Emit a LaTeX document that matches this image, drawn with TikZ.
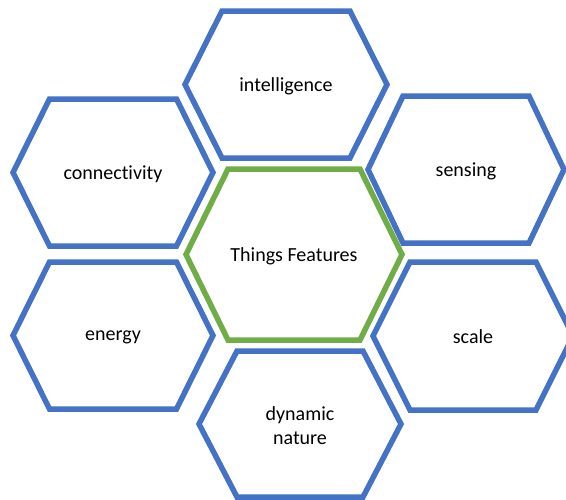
\documentclass[tikz,border=0pt]{standalone}
\usepackage{fontspec}
\setmainfont[Ligatures=CommonOff]{Carlito}
\definecolor{hexblue}{HTML}{4472C4}
\definecolor{hexgreen}{HTML}{70AD47}
\newcommand\myhex[6]{%
  \draw[#6,shift={(#1,#2)}] (-#3,0) -- (-#4,-#5) -- (#4,-#5) -- (#3,0) -- (#4,#5) -- (-#4,#5) -- cycle;}
\begin{document}
\begin{tikzpicture}[x=1pt,y=-1pt,
  hexline/.style={line width=5.5pt,line join=miter,draw=hexblue},
  hexcore/.style={line width=5.5pt,line join=miter,draw=hexgreen},
  lbl/.style={font=\fontsize{20}{24}\selectfont,align=center,text=black}]
\useasboundingbox (0,0) rectangle (566,499);
\clip (0,0) rectangle (566,499);
\myhex{286}{84.5}{101}{64}{73.5}{hexline}
\myhex{113}{172.5}{100}{63.5}{73.5}{hexline}
\myhex{466}{169.5}{98}{63}{73.5}{hexline}
\myhex{294}{254.5}{108}{66}{85.5}{hexcore}
\myhex{113}{335.5}{100}{63.5}{73.5}{hexline}
\myhex{473}{336}{100}{63}{74}{hexline}
\myhex{300}{424}{101}{63}{73}{hexline}
\node[lbl] (intel) at (286,86) {intelligence};
\node[lbl] (conn) at (113,174) {connectivity};
\node[lbl] (sens) at (466,171) {sensing};
\node[lbl] (core) at (294,256) {Things Features};
\node[lbl] (ener) at (113,337) {energy};
\node[lbl] (scal) at (473,337) {scale};
\node[lbl] (dyn) at (300,426) {dynamic\\nature};
\end{tikzpicture}
\end{document}
